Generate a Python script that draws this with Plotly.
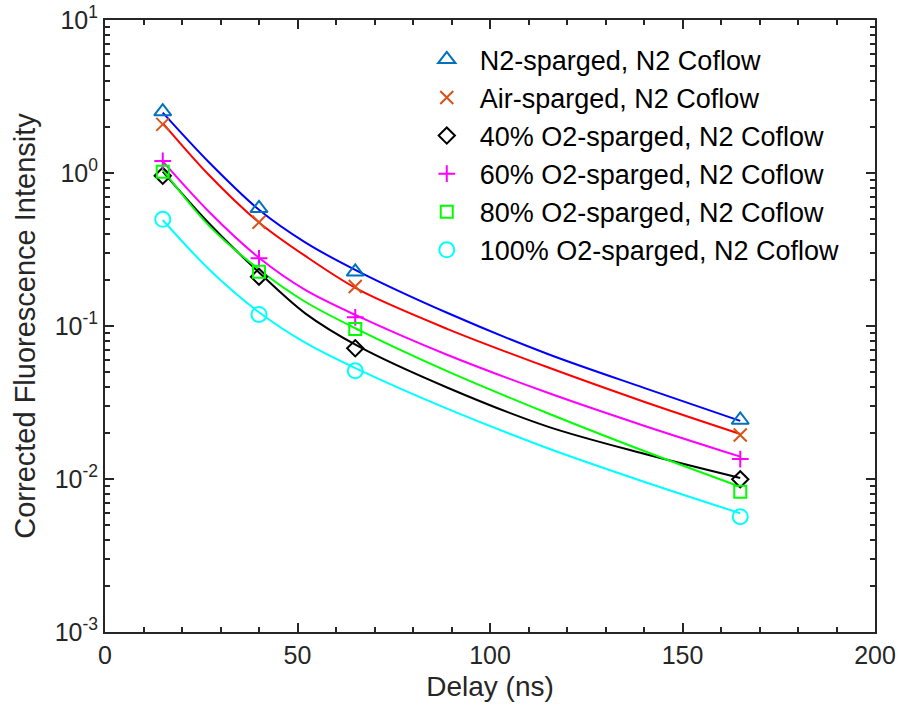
import plotly.graph_objects as go

# Measured points
delay = [15, 40, 65, 165]
n2 = [2.52, 0.588, 0.226, 0.0243]
air = [2.08, 0.476, 0.181, 0.0194]
o2_40 = [0.96, 0.210, 0.0715, 0.00995]
o2_60 = [1.20, 0.277, 0.114, 0.0135]
o2_80 = [1.02, 0.226, 0.0955, 0.00826]
o2_100 = [0.498, 0.119, 0.051, 0.00567]

# Fit curves
fit_delay = [15, 27, 40, 52, 66, 89, 115, 140, 165]
fit_n2 = [2.48, 1.175, 0.575, 0.352, 0.226, 0.1216, 0.0656, 0.0394, 0.024]
fit_air = [2.12, 0.97, 0.475, 0.287, 0.172, 0.0955, 0.0537, 0.032, 0.0197]
fit_40 = [1.02, 0.469, 0.224, 0.121, 0.0733, 0.0395, 0.022, 0.01462, 0.01016]
fit_60 = [1.19, 0.558, 0.279, 0.172, 0.115, 0.0646, 0.0366, 0.0223, 0.014]
fit_80 = [1.05, 0.453, 0.234, 0.144, 0.094, 0.0505, 0.0269, 0.01524, 0.0089]
fit_100 = [0.493, 0.235, 0.123, 0.0778, 0.0516, 0.0287, 0.0159, 0.0096, 0.00597]

names = ["N2-sparged, N2 Coflow", "Air-sparged, N2 Coflow", "40% O2-sparged, N2 Coflow",
         "60% O2-sparged, N2 Coflow", "80% O2-sparged, N2 Coflow", "100% O2-sparged, N2 Coflow"]
xtickvals = [0, 50, 100, 150, 200]
xminorvals = [10, 20, 30, 40, 60, 70, 80, 90, 110, 120, 130, 140, 160, 170, 180, 190]
ytickvals = [1e-3, 1e-2, 1e-1, 1e0, 1e1]
yticktext = ["10<sup>-3</sup>", "10<sup>-2</sup>", "10<sup>-1</sup>", "10<sup>0</sup>", "10<sup>1</sup>"]
yminorvals = [m * d for d in [1e-3, 1e-2, 1e-1, 1e0] for m in [2, 3, 4, 5, 6, 7, 8, 9]]

series = [
    (n2, fit_n2, "#0000FF", "#0072BD", "triangle-up-open", 15),
    (air, fit_air, "#FF0000", "#D95319", "x-thin-open", 13),
    (o2_40, fit_40, "#000000", "#000000", "diamond-open", 12.5),
    (o2_60, fit_60, "#FF00FF", "#FF00FF", "cross-thin-open", 12),
    (o2_80, fit_80, "#00FF00", "#00FF00", "square-open", 12),
    (o2_100, fit_100, "#00FFFF", "#00FFFF", "circle-open", 15),
]

FONT = "Arial, Liberation Sans, sans-serif"
AX = "#262626"

fig = go.Figure()
for (pts, fit, lc, mc, sym, sz), name in zip(series, names):
    fig.add_trace(go.Scatter(x=fit_delay, y=fit, mode="lines", showlegend=False,
                             line=dict(color=lc, width=2, shape="spline", smoothing=0.9),
                             hoverinfo="skip"))
for (pts, fit, lc, mc, sym, sz), name in zip(series, names):
    fig.add_trace(go.Scatter(x=delay, y=pts, mode="markers", name=name,
                             marker=dict(symbol=sym, size=sz, color=mc, line=dict(color=mc, width=2))))

fig.update_layout(
    width=901, height=707,
    margin=dict(l=105, r=26, t=20, b=75),
    paper_bgcolor="white", plot_bgcolor="white",
    font=dict(family=FONT, color=AX, size=25),
    legend=dict(x=0.401, y=0.975, xanchor="left", yanchor="top", itemwidth=56,
                bgcolor="rgba(255,255,255,0)", borderwidth=0,
                font=dict(size=27, family=FONT, color="#000000"), tracegroupgap=0),
    xaxis=dict(
        range=[0, 200], tickmode="array", tickvals=xtickvals, automargin=False,
        showline=True, linecolor=AX, linewidth=2, mirror="allticks",
        ticks="inside", ticklen=9, tickwidth=2, tickcolor=AX,
        minor=dict(ticks="inside", ticklen=5, tickwidth=2, tickcolor=AX,
                   tickmode="array", tickvals=xminorvals),
        showgrid=False, zeroline=False,
        tickfont=dict(size=25, family=FONT, color=AX),
        title=dict(text="Delay (ns)", font=dict(size=28, family=FONT, color=AX), standoff=8),
    ),
    yaxis=dict(
        type="log", range=[-3, 1], tickmode="array", tickvals=ytickvals, ticktext=yticktext,
        automargin=False,
        showline=True, linecolor=AX, linewidth=2, mirror="allticks",
        ticks="inside", ticklen=9, tickwidth=2, tickcolor=AX,
        minor=dict(ticks="inside", ticklen=5, tickwidth=2, tickcolor=AX,
                   tickmode="array", tickvals=yminorvals),
        showgrid=False, zeroline=False,
        tickfont=dict(size=25, family=FONT, color=AX),
        title=dict(text="Corrected Fluorescence Intensity", font=dict(size=29, family=FONT, color=AX),
                   standoff=10),
    ),
)

fig.write_html("out.html")
